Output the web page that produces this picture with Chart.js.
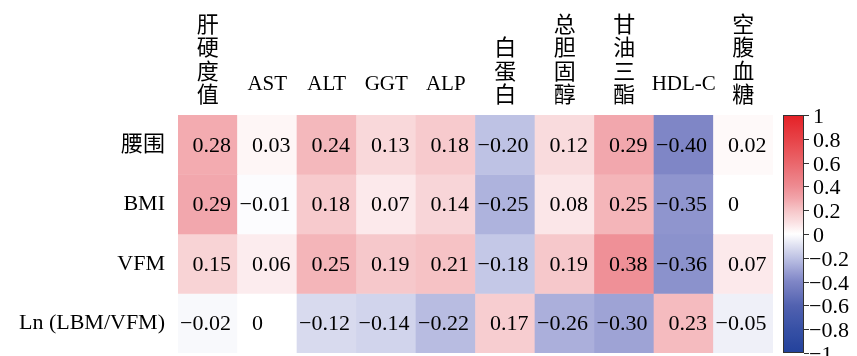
<!DOCTYPE html>
<html>
<head>
<meta charset="utf-8">
<script src="https://cdn.jsdelivr.net/npm/chart.js@4/dist/chart.umd.min.js"></script>
<style>
  html, body { margin: 0; padding: 0; background: #ffffff; }
  #wrap { position: relative; width: 857px; height: 356px; }
</style>
</head>
<body>
<div id="wrap"><canvas id="heat"></canvas></div>
<script>
// Column headers (Chinese names are stacked one character per line)
const columnLabels = [
  ['肝', '硬', '度', '值'], 'AST', 'ALT', 'GGT', 'ALP',
  ['白', '蛋', '白'], ['总', '胆', '固', '醇'], ['甘', '油', '三', '酯'],
  'HDL-C', ['空', '腹', '血', '糖']
];
const rowLabels = ['腰围', 'BMI', 'VFM', 'Ln (LBM/VFM)'];

// Correlation coefficients, one array per row
const waistValues = [0.28, 0.03, 0.24, 0.13, 0.18, -0.20, 0.12, 0.29, -0.40, 0.02];
const bmiValues   = [0.29, -0.01, 0.18, 0.07, 0.14, -0.25, 0.08, 0.25, -0.35, 0];
const vfmValues   = [0.15, 0.06, 0.25, 0.19, 0.21, -0.18, 0.19, 0.38, -0.36, 0.07];
const lnValues    = [-0.02, 0, -0.12, -0.14, -0.22, 0.17, -0.26, -0.30, 0.23, -0.05];
const rowValues = [waistValues, bmiValues, vfmValues, lnValues];

// Colour bar tick labels
const colorbarTicks = [1, 0.8, 0.6, 0.4, 0.2, 0, -0.2, -0.4, -0.6, -0.8, -1];

// Diverging blue-white-red colour map
const cmapStops = [
  [-1.0, [35, 66, 155]],
  [-0.8, [55, 80, 165]],
  [-0.6, [82, 98, 176]],
  [-0.4, [127, 134, 198]],
  [-0.3, [158, 163, 213]],
  [-0.2, [190, 194, 228]],
  [-0.1, [222, 224, 241]],
  [0.0, [255, 255, 255]],
  [0.1, [250, 224, 226]],
  [0.2, [246, 197, 200]],
  [0.3, [242, 164, 170]],
  [0.4, [238, 139, 146]],
  [0.6, [234, 102, 107]],
  [0.8, [231, 66, 71]],
  [1.0, [228, 32, 38]]
];
function cmap(v) {
  v = Math.max(-1, Math.min(1, v));
  for (let i = 1; i < cmapStops.length; i++) {
    const [v1, c1] = cmapStops[i];
    if (v <= v1) {
      const [v0, c0] = cmapStops[i - 1];
      const t = (v - v0) / (v1 - v0);
      const c = c0.map((a, k) => Math.round(a + (c1[k] - a) * t));
      return `rgb(${c[0]},${c[1]},${c[2]})`;
    }
  }
  return 'rgb(228,32,38)';
}

const FONT = '"Liberation Serif", "Times New Roman", "Noto Sans CJK SC", serif';
const TEXT = '#000000';

function fmtValue(v) {
  if (v === 0) return '0';
  return v.toFixed(2).replace('-', '\u2212');
}
function fmtTick(v) {
  if (v === 0) return '0';
  if (Math.abs(v) === 1) return String(v).replace('-', '\u2212');
  return v.toFixed(1).replace('-', '\u2212');
}

// One floating-bar dataset per row; each bar spans [row, row + 1]
const datasets = rowValues.map((vals, r) => ({
  label: rowLabels[r],
  data: vals.map(() => [r, r + 1]),
  values: vals,
  backgroundColor: vals.map(cmap),
  borderWidth: 0,
  barPercentage: 1,
  categoryPercentage: 1,
  grouped: false
}));

// Writes each coefficient inside its cell, lining up the digits
const cellText = {
  id: 'cellText',
  afterDatasetsDraw(chart) {
    const ctx = chart.ctx;
    ctx.save();
    ctx.font = `22px ${FONT}`;
    ctx.fillStyle = TEXT;
    ctx.textBaseline = 'middle';
    const ref = ctx.measureText('0.00').width;
    chart.data.datasets.forEach((ds, di) => {
      const meta = chart.getDatasetMeta(di);
      meta.data.forEach((bar, i) => {
        const s = fmtValue(ds.values[i]);
        const neg = s.startsWith('\u2212');
        const digits = neg ? s.slice(1) : s;
        const x = bar.x - ref / 2 + 4;
        const y = (bar.y + bar.base) / 2 + 1;
        ctx.textAlign = 'left';
        ctx.fillText(digits, x, y);
        if (neg) {
          ctx.textAlign = 'right';
          ctx.fillText('\u2212', x, y);
        }
      });
    });
    ctx.restore();
  }
};

// Colour bar on the right, positioned by the hidden 'cb' scale
const colorBar = {
  id: 'colorBar',
  afterDraw(chart) {
    const ctx = chart.ctx;
    const s = chart.scales.cb;
    const top = s.getPixelForValue(1);
    const bottom = s.getPixelForValue(-1);
    const x0 = chart.chartArea.right + 10;
    const w = 21;
    ctx.save();
    const g = ctx.createLinearGradient(0, top, 0, bottom);
    for (let k = 0; k <= 40; k++) {
      const v = 1 - k * 0.05;
      g.addColorStop(k / 40, cmap(v));
    }
    ctx.fillStyle = g;
    ctx.fillRect(x0, top, w, bottom - top);
    ctx.strokeStyle = '#333333';
    ctx.lineWidth = 1;
    ctx.strokeRect(x0 + 0.5, top + 0.5, w - 1, bottom - top - 1);
    ctx.font = `22px ${FONT}`;
    ctx.fillStyle = TEXT;
    ctx.textAlign = 'left';
    ctx.textBaseline = 'middle';
    colorbarTicks.forEach(t => {
      const y = Math.round(s.getPixelForValue(t)) + 0.5;
      ctx.beginPath();
      ctx.moveTo(x0 + w, y);
      ctx.lineTo(x0 + w + 5, y);
      ctx.stroke();
      ctx.fillText(fmtTick(t), x0 + w + (t < 0 ? 5 : 9), y + 2);
    });
    ctx.restore();
  }
};

new Chart(document.getElementById('heat'), {
  type: 'bar',
  data: { labels: columnLabels, datasets },
  plugins: [cellText, colorBar],
  options: {
    responsive: true,
    maintainAspectRatio: false,
    animation: false,
    events: [],
    layout: { padding: { left: 0, top: 0, right: 84, bottom: 3 } },
    plugins: { legend: { display: false }, tooltip: { enabled: false } },
    scales: {
      x: {
        position: 'top',
        grid: { display: false, drawTicks: false },
        border: { display: false },
        ticks: {
          autoSkip: false,
          maxRotation: 0,
          padding: 7,
          color: TEXT,
          font: (c) => {
            const stacked = Array.isArray(columnLabels[c.index]);
            return stacked
              ? { family: FONT, size: 22, lineHeight: 1.06 }
              : { family: FONT, size: 21, lineHeight: 2.24 };
          }
        },
        afterFit(scale) { scale.height = 115; }
      },
      y: {
        min: 0,
        max: 4,
        reverse: true,
        grid: { display: false, drawTicks: false },
        border: { display: false },
        afterBuildTicks(scale) {
          scale.ticks = rowLabels.map((_, i) => ({ value: i + 0.5 }));
        },
        ticks: {
          padding: 13,
          color: TEXT,
          font: { family: FONT, size: 22 },
          callback: (v, i) => rowLabels[i]
        },
        afterFit(scale) {
          scale.width = 178;
          // row labels sit mid-cell, so no overhang needs reserving
          scale.paddingTop = 0;
          scale.paddingBottom = 0;
        }
      },
      cb: {
        type: 'linear',
        position: 'right',
        display: false,
        min: -1,
        max: 1
      }
    }
  }
});
</script>
</body>
</html>
